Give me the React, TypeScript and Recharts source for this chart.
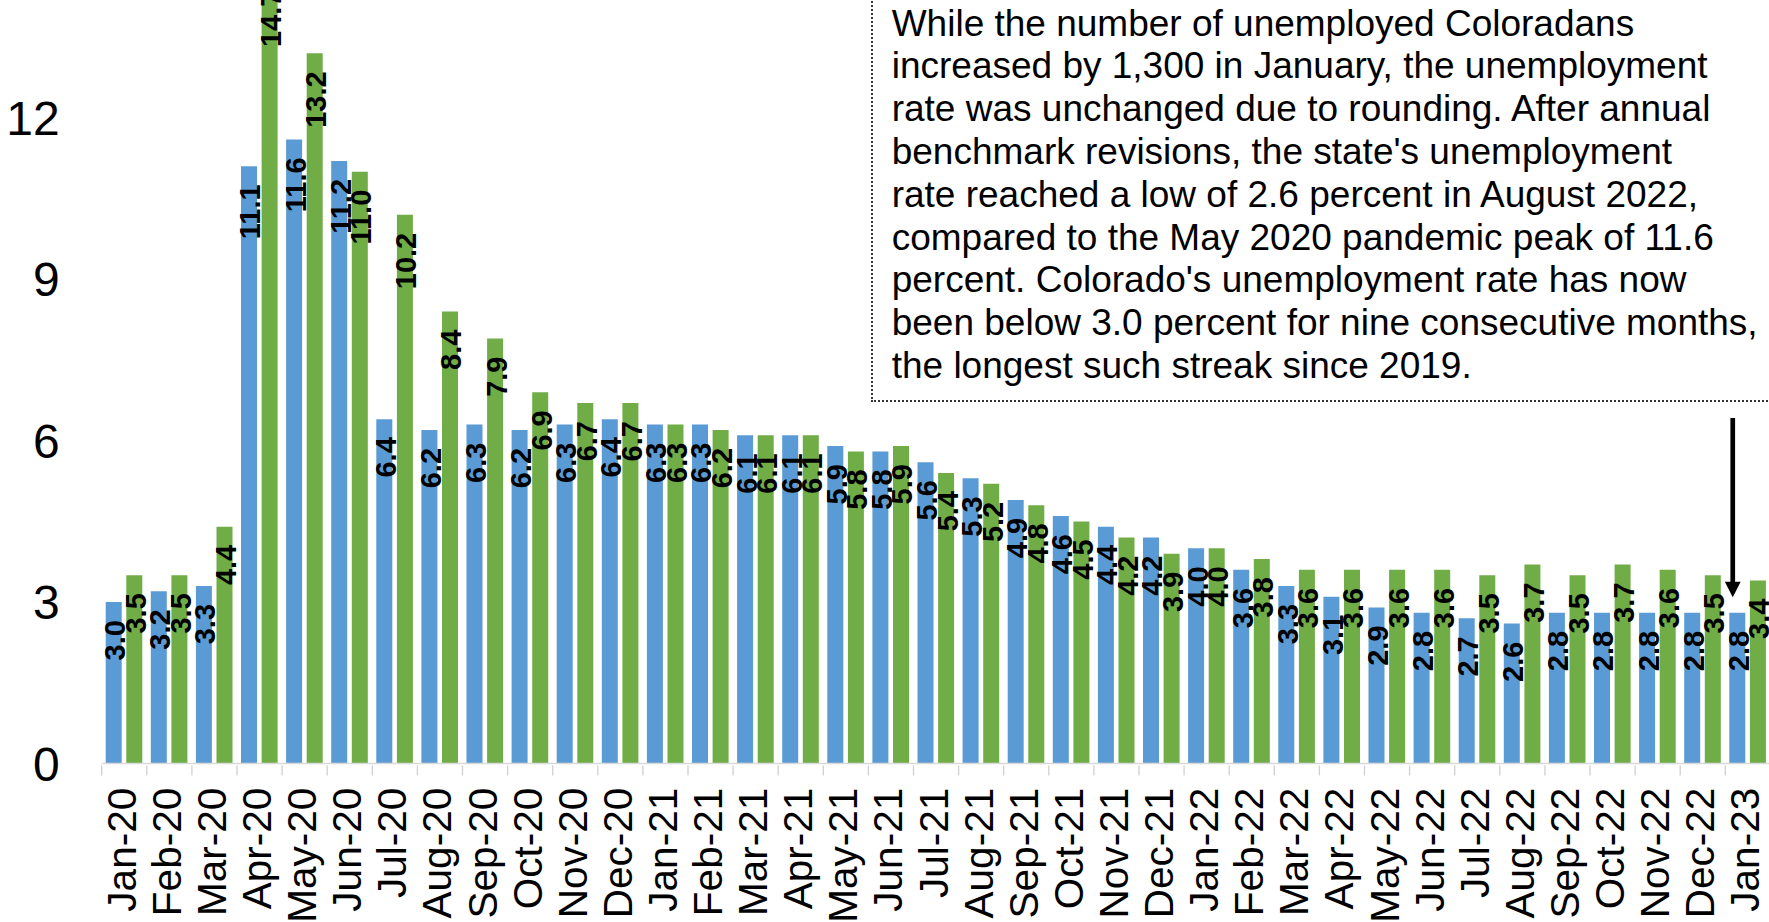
import * as React from "react"
import {
  Bar,
  BarChart,
  LabelList,
  ReferenceLine,
  XAxis,
  YAxis,
} from "recharts"

const months = [
  "Jan-20", "Feb-20", "Mar-20", "Apr-20", "May-20", "Jun-20", "Jul-20", "Aug-20", "Sep-20", "Oct-20", "Nov-20", "Dec-20",
  "Jan-21", "Feb-21", "Mar-21", "Apr-21", "May-21", "Jun-21", "Jul-21", "Aug-21", "Sep-21", "Oct-21", "Nov-21", "Dec-21",
  "Jan-22", "Feb-22", "Mar-22", "Apr-22", "May-22", "Jun-22", "Jul-22", "Aug-22", "Sep-22", "Oct-22", "Nov-22", "Dec-22",
  "Jan-23",
]

// Colorado unemployment rate (blue)
const colorado = [
  3.0, 3.2, 3.3, 11.1, 11.6, 11.2, 6.4, 6.2, 6.3, 6.2, 6.3, 6.4,
  6.3, 6.3, 6.1, 6.1, 5.9, 5.8, 5.6, 5.3, 4.9, 4.6, 4.4, 4.2,
  4.0, 3.6, 3.3, 3.1, 2.9, 2.8, 2.7, 2.6, 2.8, 2.8, 2.8, 2.8,
  2.8,
]

// U.S. unemployment rate (green)
const us = [
  3.5, 3.5, 4.4, 14.7, 13.2, 11.0, 10.2, 8.4, 7.9, 6.9, 6.7, 6.7,
  6.3, 6.2, 6.1, 6.1, 5.8, 5.9, 5.4, 5.2, 4.8, 4.5, 4.2, 3.9,
  4.0, 3.8, 3.6, 3.6, 3.6, 3.6, 3.5, 3.7, 3.5, 3.7, 3.6, 3.5,
  3.4,
]

const yTicks = [0, 3, 6, 9, 12]
const yMax = 15

// arrow pointing at the latest month
const arrowMonth = "Jan-23"
const arrowFrom = 6.42
const arrowTo = 3.09

const note = [
  "While the number of unemployed Coloradans",
  "increased by 1,300 in January, the unemployment",
  "rate was unchanged due to rounding. After annual",
  "benchmark revisions, the state's unemployment",
  "rate reached a low of 2.6 percent in August 2022,",
  "compared to the May 2020 pandemic peak of 11.6",
  "percent. Colorado's unemployment rate has now",
  "been below 3.0 percent for nine consecutive months,",
  "the longest such streak since 2019.",
]

const data = months.map((month, i) => ({
  month,
  colorado: colorado[i],
  us: us[i],
}))

const FONT = "'Liberation Sans', Arial, Helvetica, sans-serif"
const BLUE = "#5B9BD5"
const GREEN = "#70AD47"

// layout
const CHART_W = 1800
const CHART_H = 1030
const CHART_TOP = -100
const Y_AXIS_W = 101.7
const MARGIN = { top: 56.5, right: 29.6, bottom: 0, left: 0 }
const PLOT_H = 807
const X_AXIS_H = CHART_H - MARGIN.top - MARGIN.bottom - PLOT_H
const BAND = (CHART_W - Y_AXIS_W - MARGIN.right - MARGIN.left) / months.length

function ValueLabel(props: any) {
  const { x, y, width, value } = props
  const cx = x + width / 2
  const ty = y + 18
  return (
    <text
      x={cx}
      y={ty}
      dy={11.5}
      transform={`rotate(-90, ${cx}, ${ty})`}
      textAnchor="end"
      fontFamily={FONT}
      fontWeight="bold"
      fontSize={29}
      fill="#000"
    >
      {Number(value).toFixed(1)}
    </text>
  )
}

function MonthTick(props: any) {
  const { x, y, payload, index } = props
  const half = BAND / 2
  const ty = y + 24.3
  return (
    <g>
      <line x1={x - half} x2={x - half} y1={y + 2} y2={y + 12} stroke="#d0d0d0" strokeWidth={1.3} />
      {index === months.length - 1 && (
        <line x1={x + half} x2={x + half} y1={y + 2} y2={y + 12} stroke="#d0d0d0" strokeWidth={1.3} />
      )}
      <text
        x={x}
        y={ty}
        dy={11.5}
        transform={`rotate(-90, ${x}, ${ty})`}
        textAnchor="end"
        fontFamily={FONT}
        fontSize={40.5}
        fill="#000"
      >
        {payload.value}
      </text>
    </g>
  )
}

function Arrow(props: any) {
  const { x1, y1, y2 } = props
  const ax = x1 - 15.1
  const head = 15.6
  return (
    <g>
      <line x1={ax} x2={ax} y1={y1} y2={y2 - head + 1} stroke="#000" strokeWidth={4.7} />
      <polygon
        points={`${ax - 7.9},${y2 - head} ${ax + 7.9},${y2 - head} ${ax},${y2}`}
        fill="#000"
      />
    </g>
  )
}

export default function App() {
  return (
    <div
      style={{
        position: "absolute",
        left: 0,
        top: 0,
        width: 1769,
        height: 922,
        overflow: "hidden",
        background: "#fff",
      }}
    >
      <div style={{ position: "absolute", left: 0, top: CHART_TOP }}>
        <BarChart
          width={CHART_W}
          height={CHART_H}
          data={data}
          margin={MARGIN}
          barCategoryGap={4}
          barGap={4.6}
        >
          <XAxis
            dataKey="month"
            interval={0}
            height={X_AXIS_H}
            tickLine={false}
            tickSize={0}
            tickMargin={0}
            axisLine={{ stroke: "#d9d9d9", strokeWidth: 1.5 }}
            tick={<MonthTick />}
          />
          <YAxis
            width={Y_AXIS_W}
            domain={[0, yMax]}
            ticks={yTicks}
            interval={0}
            axisLine={false}
            tickLine={false}
            tickSize={0}
            tickMargin={42}
            tick={{ fontSize: 48, fill: "#000", fontFamily: FONT }}
          />
          <Bar dataKey="colorado" fill={BLUE} isAnimationActive={false}>
            <LabelList dataKey="colorado" content={<ValueLabel />} />
          </Bar>
          <Bar dataKey="us" fill={GREEN} isAnimationActive={false}>
            <LabelList dataKey="us" content={<ValueLabel />} />
          </Bar>
          <ReferenceLine
            segment={[
              { x: arrowMonth, y: arrowFrom },
              { x: arrowMonth, y: arrowTo },
            ]}
            shape={<Arrow />}
          />
        </BarChart>
      </div>
      <div
        style={{
          position: "absolute",
          left: 870.7,
          top: -10,
          width: 1000,
          height: 411.7,
          boxSizing: "border-box",
          border: "2px dotted #333",
          padding: "10.7px 0 0 19px",
          fontFamily: FONT,
          fontSize: 37,
          lineHeight: "42.8px",
          color: "#000",
          background: "#fff",
        }}
      >
        {note.map((line) => (
          <div key={line} style={{ whiteSpace: "nowrap" }}>
            {line}
          </div>
        ))}
      </div>
    </div>
  )
}
